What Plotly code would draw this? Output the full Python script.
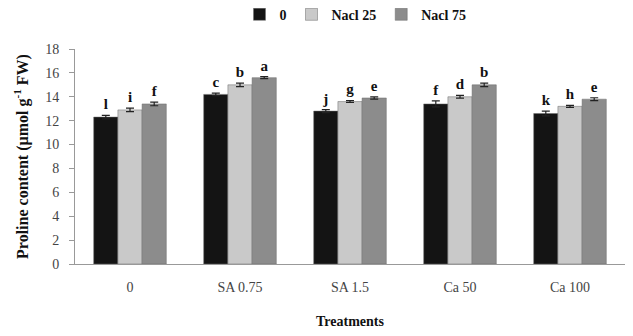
import plotly.graph_objects as go

categories = ["0", "SA 0.75", "SA 1.5", "Ca 50", "Ca 100"]
series_names = ["0", "Nacl 25", "Nacl 75"]
values_0 = [12.3, 14.2, 12.8, 13.4, 12.6]
values_25 = [12.9, 15.0, 13.6, 14.0, 13.2]
values_75 = [13.4, 15.6, 13.9, 15.0, 13.8]
errors_0 = [0.15, 0.1, 0.12, 0.25, 0.2]
errors_25 = [0.15, 0.15, 0.08, 0.12, 0.08]
errors_75 = [0.15, 0.08, 0.1, 0.15, 0.12]
letters_0 = ["l", "c", "j", "f", "k"]
letters_25 = ["i", "b", "g", "d", "h"]
letters_75 = ["f", "a", "e", "b", "e"]

colors = ["#141414", "#c9c9c9", "#8c8c8c"]
FONT = "Liberation Serif"

fig = go.Figure()
all_vals = [values_0, values_25, values_75]
all_errs = [errors_0, errors_25, errors_75]
all_lets = [letters_0, letters_25, letters_75]
for i, (name, vals, errs, col) in enumerate(zip(series_names, all_vals, all_errs, colors)):
    fig.add_trace(go.Bar(
        x=categories, y=vals, name=name, offsetgroup=str(i),
        marker=dict(color=col, line=dict(color="#6a6a6a", width=0.5)),
        error_y=dict(type="data", array=errs, color="#222", thickness=1.2, width=4),
    ))
for i, (vals, errs, lets) in enumerate(zip(all_vals, all_errs, all_lets)):
    fig.add_trace(go.Scatter(
        x=categories, y=[v + e + 0.2 for v, e in zip(vals, errs)], text=lets,
        mode="text", textposition="top center", offsetgroup=str(i),
        textfont=dict(family=FONT, size=15, color="#111", weight="bold"),
        showlegend=False, hoverinfo="skip",
    ))

fig.update_layout(
    width=633, height=336,
    margin=dict(l=67, r=16, t=41, b=80, autoexpand=False),
    paper_bgcolor="white", plot_bgcolor="white",
    barmode="group", bargap=0.34, bargroupgap=0.0,
    scattermode="group",
    font=dict(family=FONT, size=14, color="#333"),
    legend=dict(orientation="h", x=0.51, xanchor="center", y=0.98, yanchor="middle",
                yref="container", font=dict(family=FONT, size=14, color="#111", weight="bold"),
                itemwidth=30, traceorder="normal"),
    xaxis=dict(showline=True, linecolor="#999", linewidth=1, ticks="",
               ticklabelstandoff=10,
               tickfont=dict(family=FONT, size=14, color="#444"),
               title=dict(text="<b>Treatments</b>", font=dict(family=FONT, size=14, color="#111"), standoff=22)),
    yaxis=dict(range=[0, 18], dtick=2, showline=True, linecolor="#999", linewidth=1,
               ticks="outside", ticklen=5, tickcolor="#999", showgrid=False, zeroline=False,
               ticklabelstandoff=7,
               tickfont=dict(family=FONT, size=14, color="#444"),
               title=dict(text="<b>Proline content (µmol g<sup>-1</sup> FW)</b>",
                          font=dict(family=FONT, size=16, color="#111"), standoff=12)),
)
fig.write_html("out.html")
